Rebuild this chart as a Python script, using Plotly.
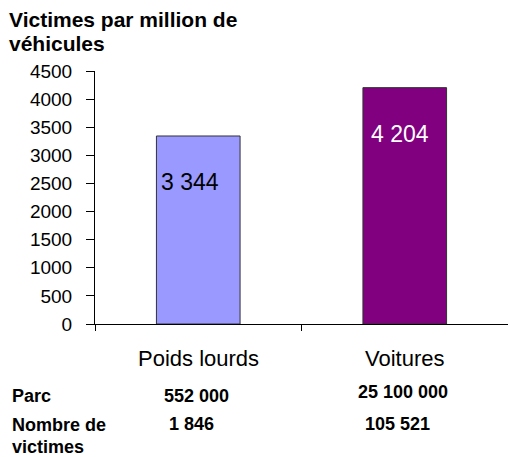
import plotly.graph_objects as go

categories = ["Poids lourds", "Voitures"]
values = [3344, 4204]
value_labels = ["3 344", "4 204"]
bar_colors = ["#9999FF", "#800080"]
label_colors = ["#000000", "#FFFFFF"]
parc = ["552 000", "25 100 000"]
victimes = ["1 846", "105 521"]
y_ticks = [0, 500, 1000, 1500, 2000, 2500, 3000, 3500, 4000, 4500]

FONT = "Liberation Sans, Arial, sans-serif"
W, H = 508, 457
L, R, T, B = 95, 0, 71, 133

fig = go.Figure()
fig.add_trace(go.Bar(
    x=categories, y=values,
    marker=dict(color=bar_colors, line=dict(color="#333333", width=1)),
    width=0.405,
    hoverinfo="skip",
))

def paper_x(xp):
    return (xp - L) / (W - L - R)

def paper_y(yp):
    return (H - B - yp) / (H - B - T)

anns = []
for c, v, t, col, xs in zip(categories, values, value_labels, label_colors, [-8, -5]):
    anns.append(dict(x=c, y=v, xref="x", yref="y", text=t, showarrow=False,
                     yshift=-46, xshift=xs,
                     font=dict(family=FONT, size=23, color=col)))

def txt(x, y, s, size, bold=False, anchor="left"):
    anns.append(dict(x=paper_x(x), y=paper_y(y), xref="paper", yref="paper",
                     text=("<b>%s</b>" % s) if bold else s, showarrow=False,
                     xanchor=anchor, yanchor="middle",
                     font=dict(family=FONT, size=size, color="#000")))

txt(7, 19, "Victimes par million de", 21, True)
txt(7, 44, "véhicules", 21, True)

for c in categories:
    anns.append(dict(x=c, y=0, xref="x", yref="y", text=c, showarrow=False,
                     yanchor="middle", yshift=-34,
                     font=dict(family=FONT, size=22, color="#000")))

txt(10, 396, "Parc", 18, True)
txt(10, 425, "Nombre de", 18, True)
txt(10, 447, "victimes", 18, True)
txt(162, 396, parc[0], 18, True)
txt(356, 392, parc[1], 18, True)
txt(167, 424, victimes[0], 18, True)
txt(363, 424, victimes[1], 18, True)

fig.update_layout(
    width=W, height=H,
    margin=dict(l=L, r=R, t=T, b=B, pad=0),
    plot_bgcolor="white", paper_bgcolor="white",
    showlegend=False,
    annotations=anns,
    xaxis=dict(
        type="category", range=[-0.5, 1.5],
        showline=True, linecolor="#000", linewidth=1,
        ticks="outside", tickson="boundaries", ticklen=6, tickcolor="#000",
        showticklabels=False, showgrid=False, zeroline=False,
    ),
    yaxis=dict(
        range=[0, 4500], tickvals=y_ticks,
        showline=True, linecolor="#000", linewidth=1,
        ticks="outside", ticklen=8, tickcolor="#000",
        ticklabelstandoff=10,
        tickfont=dict(family=FONT, size=19, color="#000"),
        showgrid=False, zeroline=False,
    ),
)

fig.write_html("out.html", config={"displayModeBar": False},
               post_script="document.body.style.margin='0';")
